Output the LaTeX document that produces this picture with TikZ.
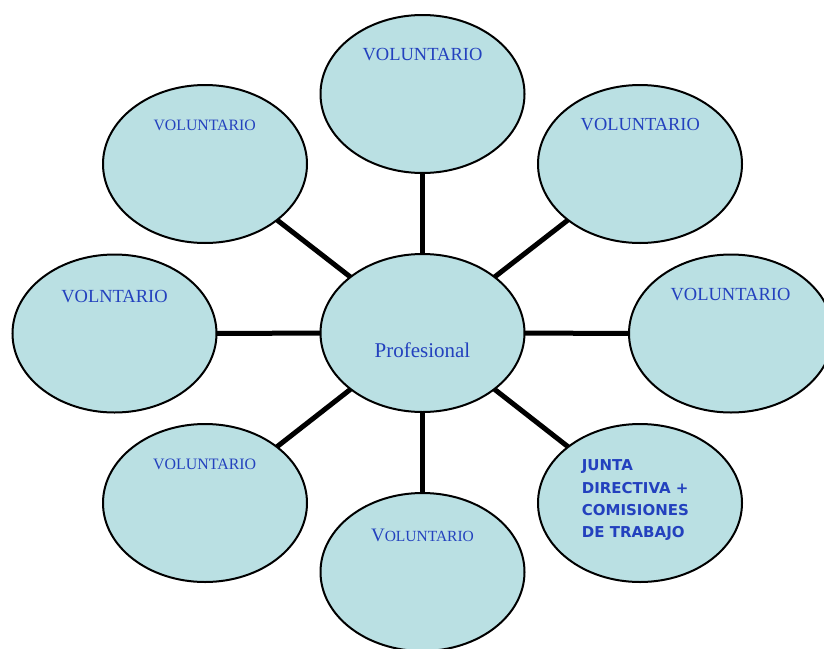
\documentclass[tikz,border=0pt]{standalone}
\usepackage{fontspec}
\setmainfont{Liberation Serif}
\newfontfamily\verd{DejaVu Sans}
\usetikzlibrary{shapes.geometric,backgrounds}
\definecolor{fillb}{RGB}{186,224,227}
\definecolor{txtb}{RGB}{35,65,190}
\begin{document}
\begin{tikzpicture}[x=1pt,y=-1pt,
  bub/.style={ellipse, draw=black, line width=2pt, fill=fillb,
              minimum width=204pt, minimum height=158pt, inner sep=0pt},
  spoke/.style={line width=5pt, draw=black},
  lbl/.style={text=txtb, anchor=base, inner sep=0pt},
  jlbl/.style={text=txtb, anchor=base west, inner sep=0pt,
               font=\verd\bfseries\fontsize{15}{18}\selectfont}]
\useasboundingbox (0,0) rectangle (824,648);
% ellipses
\node[bub] (c)  at (422.5,333) {};
\node[bub] (n)  at (422.5,94) {};
\node[bub] (nw) at (205,164) {};
\node[bub] (ne) at (640,164) {};
\node[bub] (w)  at (114.5,333.5) {};
\node[bub] (e)  at (731,333.5) {};
\node[bub] (sw) at (205,503) {};
\node[bub] (s)  at (422.5,572) {};
\node[bub] (se) at (640,503) {};
% spokes
\begin{scope}[on background layer]
  \foreach \o in {n,nw,ne,w,e,sw,s,se}
    \draw[spoke] (c.center) -- (\o.center);
\end{scope}
% labels
\node[lbl, font=\fontsize{21}{25}\selectfont] (tc) at (422.5,357) {Profesional};
\node[lbl, font=\fontsize{18.5}{22}\selectfont] (tn) at (422.5,60) {VOLUNTARIO};
\node[lbl, font=\fontsize{15.8}{19}\selectfont] (tnw) at (204.7,130.7) {VOLUNTARIO};
\node[lbl, font=\fontsize{18.4}{22}\selectfont] (tne) at (640.3,130) {VOLUNTARIO};
\node[lbl, font=\fontsize{18.5}{22}\selectfont] (tw) at (114.5,302.7) {VOLNTARIO};
\node[lbl, font=\fontsize{18.5}{22}\selectfont] (te) at (730.5,300) {VOLUNTARIO};
\node[lbl, font=\fontsize{15.9}{19}\selectfont] (tsw) at (204.7,469.3) {VOLUNTARIO};
\node[lbl] (ts) at (422.5,541.7) {{\fontsize{19}{22}\selectfont V}{\fontsize{15.5}{19}\selectfont OLUNTARIO}};
\node[jlbl] (j1) at (581.7,470) {JUNTA};
\node[jlbl] (j2) at (581.7,493.3) {DIRECTIVA +};
\node[jlbl] (j3) at (581.7,515.4) {COMISIONES};
\node[jlbl] (j4) at (581.7,537.3) {DE TRABAJO};
\end{tikzpicture}
\end{document}
